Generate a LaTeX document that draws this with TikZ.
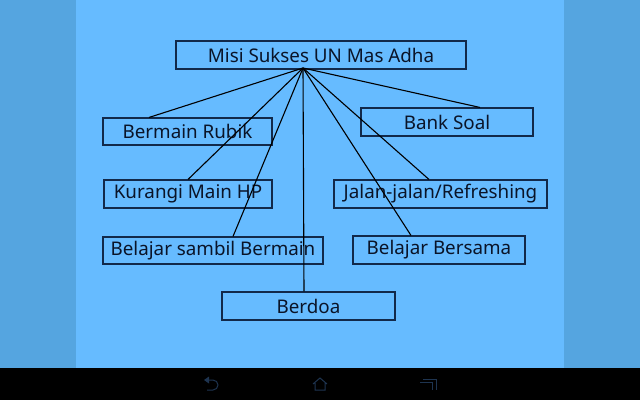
\documentclass[tikz,border=0pt]{standalone}
\usepackage{fontspec}
\setmainfont{Noto Sans}
\definecolor{sideblue}{HTML}{55A5E0}
\definecolor{mainblue}{HTML}{66BBFF}
\definecolor{boxline}{HTML}{12294A}
\definecolor{txt}{HTML}{0A1428}
\definecolor{navicon}{HTML}{1E3450}
\tikzset{
  box/.style={draw=boxline, line width=1.1pt, inner sep=0pt, text=txt,
    font=\fontsize{18.8}{22}\selectfont},
  link/.style={draw=black, line width=1.1pt},
  nav/.style={draw=navicon, line width=1pt}
}
\begin{document}
\begin{tikzpicture}[x=1pt,y=-1pt]
\useasboundingbox (0,0) rectangle (640,400);
\fill[sideblue] (0,0) rectangle (640,368);
\fill[mainblue] (76,0) rectangle (564,368);
\fill[black] (0,368) rectangle (640,400);

\node[box, minimum width=290pt, minimum height=28pt] (title) at (321,55) {Misi Sukses UN Mas Adha};
\node[box, minimum width=169pt, minimum height=27pt] (rubik) at (187.5,131.5) {Bermain Rubik};
\node[box, minimum width=172pt, minimum height=28pt] (bank) at (447,122) {Bank Soal};
\node[box, minimum width=168pt, minimum height=28pt] (hp) at (188,194) {Kurangi Main HP};
\node[box, minimum width=213pt, minimum height=28pt] (jalan) at (440.5,194) {Jalan-jalan/Refreshing};
\node[box, minimum width=220pt, minimum height=27pt] (sambil) at (213,250.5) {Belajar sambil Bermain};
\node[box, minimum width=172pt, minimum height=28pt] (bersama) at (439,250) {Belajar Bersama};
\node[box, minimum width=173pt, minimum height=28pt] (berdoa) at (308.5,306) {Berdoa};

\coordinate (hub) at (303,68);
\draw[link] (hub) -- ([xshift=-38.5pt]rubik.north);
\draw[link] (hub) -- ([xshift=33pt]bank.north);
\draw[link] (hub) -- (hp.north);
\draw[link] (hub) -- ([xshift=-11.5pt]jalan.north);
\draw[link] (hub) -- ([xshift=20pt]sambil.north);
\draw[link] (hub) -- ([xshift=-28pt]bersama.north);
\draw[link] (hub) -- ([xshift=-4.5pt]berdoa.north);

% navigation bar icons
\draw[nav] (208,380) -- (213,380) arc[start angle=-90, end angle=90, radius=5] -- (207,390);
\fill[navicon] (204,380) -- (209,376.5) -- (209,383.5) -- cycle;
\draw[nav] (313,384) -- (320,378) -- (327,384) (315,383) -- (315,390) -- (325,390) -- (325,383);
\draw[nav] (423,379) -- (436,379) -- (436,390) (420,382) -- (432,382) -- (432,390);
\end{tikzpicture}
\end{document}
